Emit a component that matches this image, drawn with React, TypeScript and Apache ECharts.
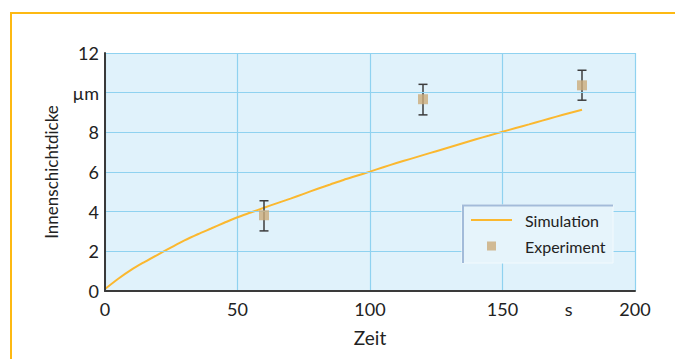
import React, { useEffect, useRef } from "react";
import * as echarts from "echarts";

const simTime = [0, 5, 10, 15, 20, 25, 30, 35, 40, 45, 50, 55, 60, 65, 70, 75, 80, 85, 90, 95, 100, 105, 110, 115, 120, 125, 130, 135, 140, 145, 150, 155, 160, 165, 170, 175, 180];
const simThickness = [0.1, 0.62, 1.08, 1.47, 1.84, 2.2, 2.55, 2.86, 3.15, 3.44, 3.72, 3.96, 4.2, 4.43, 4.66, 4.9, 5.14, 5.37, 5.6, 5.81, 6.02, 6.24, 6.45, 6.65, 6.85, 7.05, 7.25, 7.45, 7.65, 7.84, 8.03, 8.22, 8.4, 8.59, 8.78, 8.96, 9.14];

const expTime = [60, 120, 180];
const expThickness = [3.82, 9.67, 10.37];
const expLow = [3.03, 8.88, 9.62];
const expHigh = [4.55, 10.42, 11.13];

const xTickLabels: Record<number, string> = { 0: "0", 50: "50", 100: "100", 150: "150", 175: "s", 200: "200" };
const yTickLabels: Record<number, string> = { 0: "0", 2: "2", 4: "4", 6: "6", 8: "8", 10: "µm", 12: "12" };

const FONT = "Lato";
const TEXT = "#222222";

export default function App() {
  const ref = useRef<HTMLDivElement>(null);
  useEffect(() => {
    document.body.style.margin = "0";
    const chart = echarts.init(ref.current!, undefined, { renderer: "svg" });
    const option: any = {
      animation: false,
      textStyle: { fontFamily: FONT, color: TEXT },
      grid: {
        left: 105,
        right: 40,
        top: 53,
        bottom: 68,
        show: true,
        backgroundColor: "#e0f2fb",
        borderWidth: 0,
        outerBoundsMode: "none",
      },
      xAxis: [
        {
          type: "value",
          min: 0,
          max: 200,
          interval: 25,
          name: "Zeit",
          nameLocation: "middle",
          nameGap: 37,
          nameTextStyle: { fontFamily: FONT, fontSize: 19, color: TEXT },
          axisLine: { show: true, lineStyle: { color: "#3a3a3a", width: 2 } },
          axisTick: { show: false },
          splitLine: { show: false },
          axisLabel: {
            margin: 9,
            fontFamily: FONT,
            fontSize: 18,
            color: TEXT,
            formatter: (v: number) => xTickLabels[v] ?? "",
          },
          z: 5,
        },
        {
          type: "value",
          min: 0,
          max: 200,
          interval: 50,
          position: "bottom",
          axisLine: { show: false },
          axisTick: { show: false },
          axisLabel: { show: false },
          splitLine: { show: true, lineStyle: { color: "#8fd2f0", width: 1.2 } },
        },
      ],
      yAxis: {
        type: "value",
        min: 0,
        max: 12,
        interval: 2,
        name: "Innenschichtdicke",
        nameLocation: "middle",
        nameRotate: 90,
        nameGap: 45,
        nameTextStyle: { fontFamily: FONT, fontSize: 17, color: TEXT },
        axisLine: { show: true, lineStyle: { color: "#3a3a3a", width: 2 } },
        axisTick: { show: false },
        splitLine: { show: true, lineStyle: { color: "#8fd2f0", width: 1.2 } },
        axisLabel: {
          margin: 6,
          fontFamily: FONT,
          fontSize: 18,
          color: TEXT,
          formatter: (v: number) => yTickLabels[v] ?? "",
        },
        z: 5,
      },
      legend: [
        {
          data: ["Simulation"],
          left: 471,
          top: 212,
          padding: 0,
          icon: "rect",
          itemWidth: 41,
          itemHeight: 2,
          z: 60,
          textStyle: { fontFamily: FONT, fontSize: 16, color: TEXT, padding: [0, 0, 0, 8] },
        },
        {
          data: ["Experiment"],
          left: 487,
          top: 238,
          padding: 0,
          icon: "rect",
          itemWidth: 9,
          itemHeight: 9,
          z: 60,
          textStyle: { fontFamily: FONT, fontSize: 16, color: TEXT, padding: [0, 0, 0, 24] },
        },
      ],
      graphic: [
        {
          type: "rect",
          z: 100,
          shape: { x: 11, y: 13, width: 900, height: 600 },
          style: { fill: "none", stroke: "#fdb913", lineWidth: 2 },
        },
        {
          type: "rect",
          z: 50,
          shape: { x: 462, y: 205, width: 151, height: 58 },
          style: { fill: "#e6f4fb", stroke: "#f3fafd", lineWidth: 1 },
        },
        {
          type: "polyline",
          z: 51,
          shape: { points: [[463, 263], [463, 205.5], [613, 205.5]] },
          style: { fill: "none", stroke: "#a3bbd9", lineWidth: 2 },
        },
      ],
      series: [
        {
          name: "Simulation",
          type: "line",
          xAxisIndex: 0,
          data: simTime.map((t, i) => [t, simThickness[i]]),
          showSymbol: false,
          symbol: "none",
          smooth: 0.3,
          lineStyle: { color: "#fbb82f", width: 2 },
          itemStyle: { color: "#fbb82f" },
          z: 3,
        },
        {
          name: "Fehler",
          type: "custom",
          xAxisIndex: 0,
          data: expTime.map((t, i) => [t, expLow[i], expHigh[i]]),
          renderItem: (params: any, api: any) => {
            const lo = api.coord([api.value(0), api.value(1)]);
            const hi = api.coord([api.value(0), api.value(2)]);
            const w = 4.5;
            const st = { stroke: "#3d3d3d", lineWidth: 1.5 };
            return {
              type: "group",
              children: [
                { type: "line", shape: { x1: lo[0], y1: lo[1], x2: hi[0], y2: hi[1] }, style: st },
                { type: "line", shape: { x1: lo[0] - w, y1: lo[1], x2: lo[0] + w, y2: lo[1] }, style: st },
                { type: "line", shape: { x1: hi[0] - w, y1: hi[1], x2: hi[0] + w, y2: hi[1] }, style: st },
              ],
            };
          },
          z: 4,
        },
        {
          name: "Experiment",
          type: "scatter",
          xAxisIndex: 0,
          data: expTime.map((t, i) => [t, expThickness[i]]),
          symbol: "rect",
          symbolSize: 10,
          itemStyle: { color: "#ccab7b" },
          z: 5,
        },
      ],
    };
    chart.setOption(option);
    return () => chart.dispose();
  }, []);
  return <div ref={ref} style={{ width: 675, height: 359 }} />;
}
